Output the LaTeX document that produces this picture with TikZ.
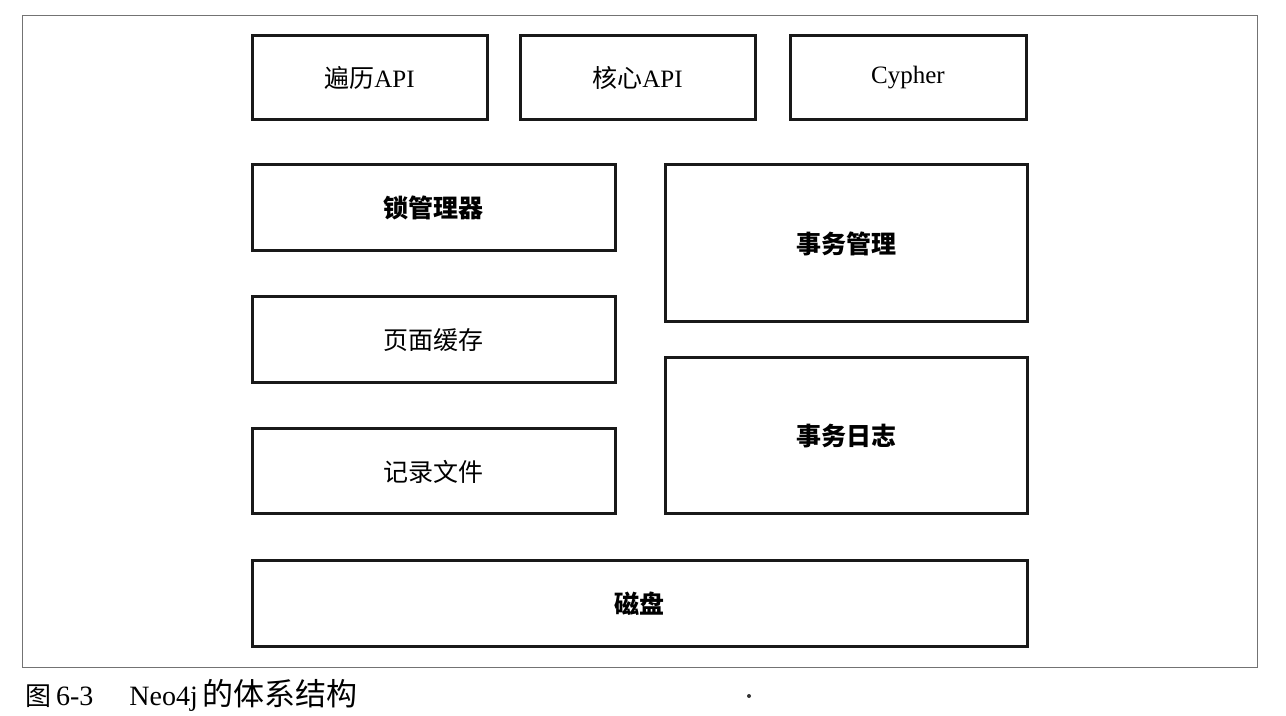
\documentclass[tikz,border=0pt]{standalone}
\usepackage{fontspec}
\setmainfont{Liberation Serif}
\newfontfamily\cjk{Noto Sans CJK SC}
\begin{document}
\begin{tikzpicture}[x=0.5pt,y=-0.5pt,
  blk/.style={draw=black!90,line width=1.5pt,inner sep=0pt,font=\fontsize{12.5}{15}\selectfont},
  frame/.style={draw=black!55,line width=0.5pt}]
\useasboundingbox (0,0) rectangle (1286,716);
\draw[frame] (22,16) rectangle (1257,667);
% top row
\node[blk,minimum width=117.5pt,minimum height=42pt] (trav) at (369.5,77.5) {{\cjk 遍历}API};
\node[blk,minimum width=117.5pt,minimum height=42pt] (core) at (637.5,77.5) {{\cjk 核心}API};
\node[blk,minimum width=118pt,minimum height=42pt] (cyph) at (908,77.5) {Cypher};
% left column
\node[blk,minimum width=181.5pt,minimum height=43pt] (lock) at (433.5,208) {\cjk\bfseries 锁管理器};
\node[blk,minimum width=181.5pt,minimum height=43pt] (page) at (433.5,340) {\cjk 页面缓存};
\node[blk,minimum width=181.5pt,minimum height=42.5pt] (rec) at (433.5,471.5) {\cjk 记录文件};
% right column
\node[blk,minimum width=181pt,minimum height=78.5pt] (txm) at (846,243.5) {\cjk\bfseries 事务管理};
\node[blk,minimum width=181pt,minimum height=78pt] (txl) at (846,436) {\cjk\bfseries 事务日志};
% disk
\node[blk,minimum width=387.5pt,minimum height=42.5pt] (disk) at (639.5,603.5) {\cjk\bfseries 磁盘};
% caption
\node[anchor=base west,inner sep=0pt,font=\fontsize{14}{16}\selectfont] (cap) at (25,705)
  {{\cjk\fontsize{13}{16}\selectfont 图}\,6-3\hspace{18pt}Neo4j\,{\cjk\fontsize{15.5}{16}\selectfont 的体系结构}};
\fill[black!80] (749,696) circle (1pt);
\end{tikzpicture}
\end{document}
